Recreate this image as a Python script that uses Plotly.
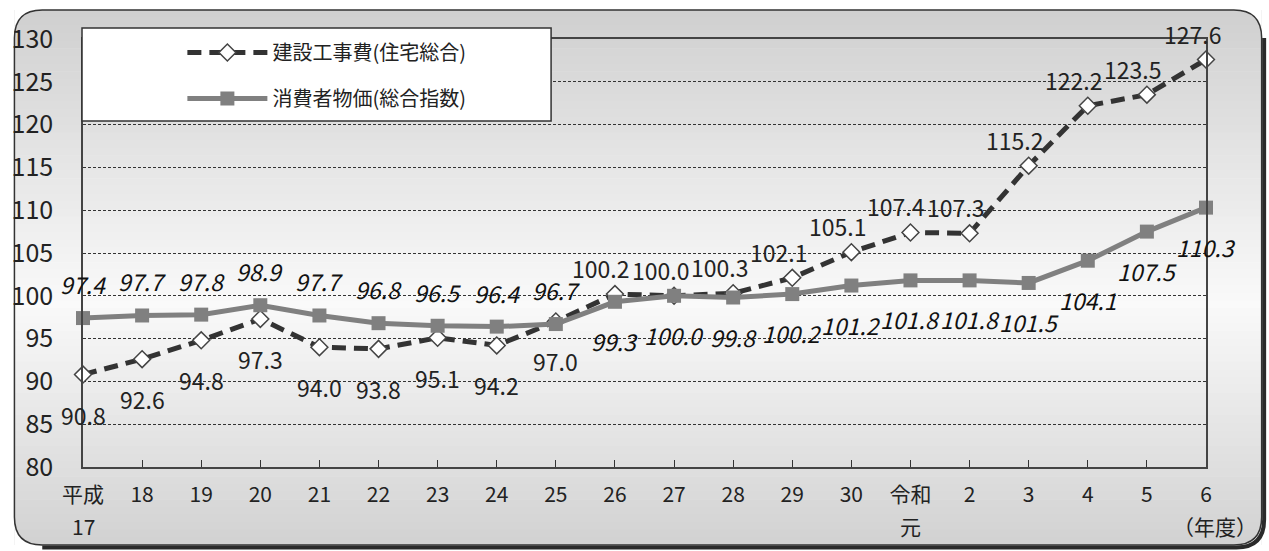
import plotly.graph_objects as go

# ---------------- data ----------------
years = ["平成", "18", "19", "20", "21", "22", "23", "24", "25", "26", "27", "28",
         "29", "30", "令和", "2", "3", "4", "5", "6"]
second_line = {0: "17", 14: "元", 19: "（年度）"}
construction = [90.8, 92.6, 94.8, 97.3, 94.0, 93.8, 95.1, 94.2, 97.0, 100.2, 100.0,
                100.3, 102.1, 105.1, 107.4, 107.3, 115.2, 122.2, 123.5, 127.6]
cpi = [97.4, 97.7, 97.8, 98.9, 97.7, 96.8, 96.5, 96.4, 96.7, 99.3, 100.0, 99.8,
       100.2, 101.2, 101.8, 101.8, 101.5, 104.1, 107.5, 110.3]
name_con = "建設工事費(住宅総合)"
name_cpi = "消費者物価(総合指数)"
y_ticks = [80, 85, 90, 95, 100, 105, 110, 115, 120, 125, 130]

# ---------------- geometry helpers ----------------
W, H = 1269, 551
L, R, T, B = 76, 1206, 39, 467
FONT = "Noto Sans CJK JP"


def px(x):
    return (x - L) / (R - L)


def py(y):
    return (B - y) / (B - T)


def P(x, y):
    return f"{px(x):.5f},{py(y):.5f}"


xs = list(range(len(years)))

fig = go.Figure()
fig.add_trace(go.Scatter(
    x=xs, y=construction, name=name_con, mode="lines+markers",
    line=dict(color="#333333", width=5, dash="14px,8px"),
    marker=dict(symbol="diamond", size=13, color="white",
                line=dict(color="#444444", width=1.5)),
    cliponaxis=False, legendgroup="a"))
fig.add_trace(go.Scatter(
    x=xs, y=cpi, name=name_cpi, mode="lines+markers",
    line=dict(color="#808080", width=5),
    marker=dict(symbol="square", size=14, color="#808080"),
    cliponaxis=False, legendgroup="b"))

shapes = []
# background gradient bands inside frame
fx0, fx1, fy0, fy1, rr = 7, 1262, 10, 545, 28
N = 70
for k in range(N):
    ya = fy0 + (fy1 - fy0) * k / N
    yb = fy0 + (fy1 - fy0) * (k + 1) / N + 0.6
    t = (k + 0.5) / N
    if t < 0.55:
        v = 208 + (250 - 208) * (t / 0.55)
    else:
        v = 250 - (250 - 210) * ((t - 0.55) / 0.45)
    c = f"rgb({int(v)},{int(v)},{int(v)})"
    shapes.append(dict(type="rect", xref="paper", yref="paper",
                       x0=px(fx0), x1=px(fx1), y0=py(ya), y1=py(min(yb, fy1)),
                       fillcolor=c, line=dict(width=0), layer="below"))
# corner masks
corners = [
    (fx0, fy0, fx0 + rr, fy0, fx0, fy0 + rr),
    (fx1, fy0, fx1 - rr, fy0, fx1, fy0 + rr),
    (fx1, fy1, fx1 - rr, fy1, fx1, fy1 - rr),
    (fx0, fy1, fx0 + rr, fy1, fx0, fy1 - rr),
]
for cx, cy, ax, ay, bx, by in corners:
    path = f"M{P(cx, cy)} L{P(ax, ay)} Q{P(cx, cy)} {P(bx, by)} Z"
    shapes.append(dict(type="path", xref="paper", yref="paper", path=path,
                       fillcolor="white", line=dict(width=0), layer="below"))
# shadow on right / bottom
sh = 2.5
shadow = (f"M{P(fx1 + sh, fy0 + rr)} L{P(fx1 + sh, fy1 - rr + sh)} "
          f"Q{P(fx1 + sh, fy1 + sh)} {P(fx1 - rr + sh, fy1 + sh)} L{P(fx0 + rr, fy1 + sh)}")
shapes.append(dict(type="path", xref="paper", yref="paper", path=shadow,
                   line=dict(color="#2a2a2a", width=4), layer="below"))
# frame border
border = (f"M{P(fx0 + rr, fy0)} L{P(fx1 - rr, fy0)} Q{P(fx1, fy0)} {P(fx1, fy0 + rr)} "
          f"L{P(fx1, fy1 - rr)} Q{P(fx1, fy1)} {P(fx1 - rr, fy1)} "
          f"L{P(fx0 + rr, fy1)} Q{P(fx0, fy1)} {P(fx0, fy1 - rr)} "
          f"L{P(fx0, fy0 + rr)} Q{P(fx0, fy0)} {P(fx0 + rr, fy0)} Z")
shapes.append(dict(type="path", xref="paper", yref="paper", path=border,
                   line=dict(color="#333333", width=1.5), layer="below"))
# legend box
shapes.append(dict(type="rect", xref="paper", yref="paper",
                   x0=px(75), x1=px(547), y0=py(121), y1=py(28),
                   fillcolor="white", line=dict(color="#333333", width=1.5),
                   layer="above"))

annotations = []
for i in xs:
    if i < 9:
        cy, cx = -40, 0
        py_, px_ = 34, 0
    else:
        cy, cx = 26, -14
        py_, px_ = -39, 0
    annotations.append(dict(x=i, y=construction[i], text=f"{construction[i]:.1f}",
                            showarrow=False, xshift=cx, yshift=cy,
                            font=dict(family=FONT, size=23, color="#222222")))
    annotations.append(dict(x=i, y=cpi[i], text=f"{cpi[i]:.1f}",
                            showarrow=False, xshift=px_, yshift=py_,
                            font=dict(family=FONT, size=23, color="#111111",
                                      style="italic")))
for i, txt in second_line.items():
    annotations.append(dict(x=i, xref="x", y=py(526), yref="paper", text=txt,
                            showarrow=False, xshift=9 if i == 19 else 0,
                            yanchor="middle", xanchor="center",
                            font=dict(family=FONT, size=21, color="#222222")))

fig.update_layout(
    width=W, height=H,
    margin=dict(l=L, r=W - R, t=T, b=H - B),
    paper_bgcolor="white", plot_bgcolor="rgba(0,0,0,0)",
    font=dict(family=FONT, color="#222222"),
    shapes=shapes, annotations=annotations,
    showlegend=True,
    legend=dict(x=px(176), y=py(33), xanchor="left", yanchor="top",
                bgcolor="rgba(0,0,0,0)", borderwidth=0, itemwidth=80,
                font=dict(family=FONT, size=20, color="#222222"),
                tracegroupgap=17),
    xaxis=dict(range=[0, 19], tickmode="array", tickvals=xs, ticktext=years,
               ticks="inside", ticklen=7, tickcolor="#333333",
               showline=True, linecolor="#444444", linewidth=1.5, mirror=True,
               showgrid=False, zeroline=False, ticklabelstandoff=8,
               tickfont=dict(family=FONT, size=21, color="#222222")),
    yaxis=dict(range=[80, 130], tickmode="array", tickvals=y_ticks,
               ticks="", showline=True, linecolor="#444444", linewidth=1.5,
               mirror=True, showgrid=True, gridcolor="#333333", gridwidth=1,
               griddash="3px,2px", zeroline=False, ticklabelstandoff=23,
               tickfont=dict(family=FONT, size=25, color="#222222")),
)

fig.write_html("out.html")
